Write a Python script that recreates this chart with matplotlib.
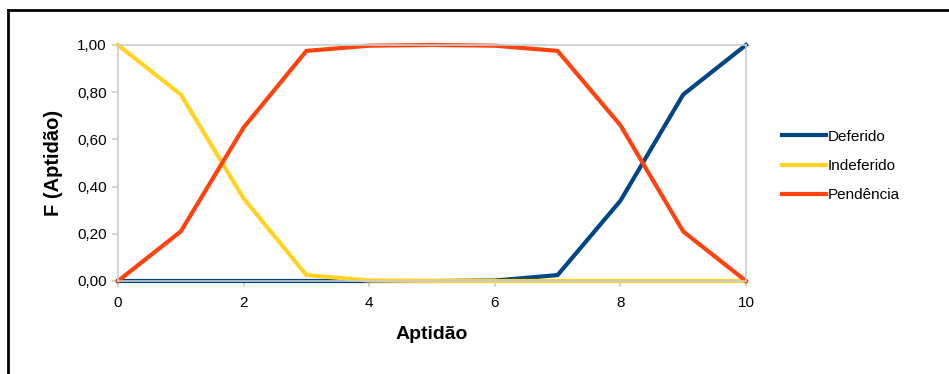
import matplotlib.pyplot as plt
from matplotlib.lines import Line2D

plt.rcParams['font.family'] = ['Liberation Sans', 'DejaVu Sans']

# values, x = 0..10
aptidao = [0, 1, 2, 3, 4, 5, 6, 7, 8, 9, 10]
deferido = [0, 0, 0, 0, 0, 0, 0.002, 0.025, 0.34, 0.79, 1.0]
indeferido = [1.0, 0.79, 0.35, 0.025, 0.002, 0, 0, 0, 0, 0, 0]
pendencia = [0, 0.21, 0.65, 0.975, 0.997, 1.0, 0.997, 0.975, 0.66, 0.21, 0]
series = ['Deferido', 'Indeferido', 'Pendência']
cores = ['#004586', '#ffd320', '#ff420e']
y_ticks = [0, 0.2, 0.4, 0.6, 0.8, 1.0]
x_ticks = [0, 2, 4, 6, 8, 10]

fig = plt.figure(figsize=(9.49, 3.74), dpi=100)
ax = fig.add_axes([118 / 949, 1 - 281 / 374, 628 / 949, 236 / 374])

for vals, nome, cor in zip([deferido, indeferido, pendencia], series, cores):
    ax.plot(aptidao, vals, color=cor, lw=3, label=nome, clip_on=False,
            solid_joinstyle='miter')

ax.set_xlim(0, 10)
ax.set_ylim(0, 1)
ax.set_xticks(x_ticks)
ax.set_yticks(y_ticks)
ax.set_yticklabels([f'{v:.2f}'.replace('.', ',') for v in y_ticks])
for s in ax.spines.values():
    s.set_color('#cccccc')
    s.set_linewidth(1.2)
ax.tick_params(colors='#cccccc', labelcolor='black', labelsize=11,
               length=4, width=1.2)
ax.tick_params(axis='x', pad=7)
ax.tick_params(axis='y', pad=4)

ax.set_ylabel('F (Aptidão)', fontsize=14.5, fontweight='bold', labelpad=10)
ax.set_xlabel('Aptidão', fontsize=14, fontweight='bold', labelpad=11)

handles = [Line2D([], [], color=c, lw=3) for c in cores]
fig.legend(handles, series, loc='center left',
           bbox_to_anchor=(768 / 949, 1 - 166 / 374), frameon=False,
           fontsize=11, handlelength=2.9, handletextpad=0.1, labelspacing=1.0)

# black frame lines (top and left only)
fig.add_artist(Line2D([8 / 949, 1], [1 - 10 / 374, 1 - 10 / 374],
                      transform=fig.transFigure, color='black', lw=2))
fig.add_artist(Line2D([8 / 949, 8 / 949], [0, 1 - 10 / 374],
                      transform=fig.transFigure, color='black', lw=2))

fig.savefig('out.png', dpi=100)
